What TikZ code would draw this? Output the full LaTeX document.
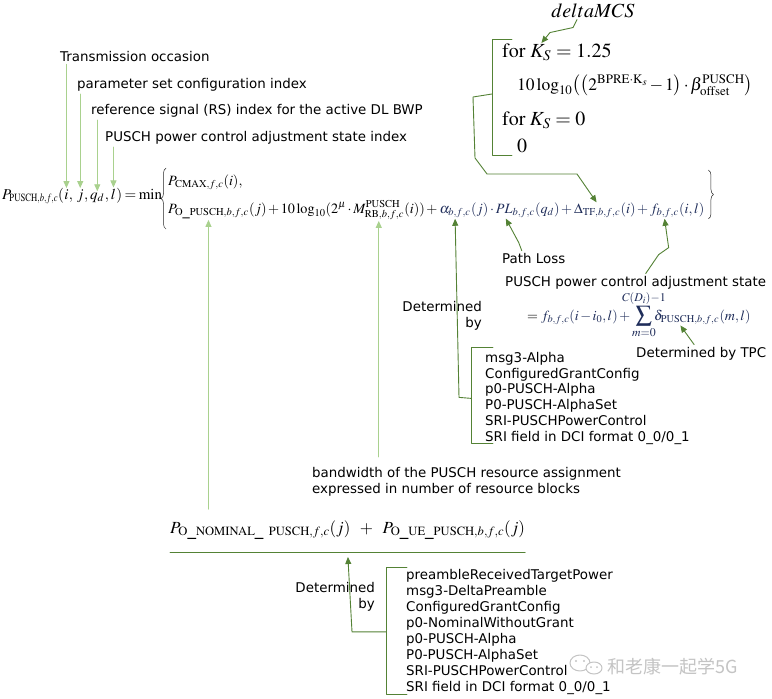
\documentclass[tikz,border=0pt]{standalone}
\usepackage{graphicx}
\usepackage{mathptmx}
\usepackage[no-math]{fontspec}
\setmainfont{DejaVu Sans}
\newfontfamily\cjkfont{Noto Sans CJK SC}
\usetikzlibrary{positioning,arrows.meta,calc,decorations.pathreplacing}
\definecolor{lightgrn}{HTML}{A9D18E}
\definecolor{darkgrn}{HTML}{548235}
\definecolor{eqnavy}{HTML}{1F2D5A}
\definecolor{wmgray}{HTML}{C4C4C4}
\newcommand{\zclap}[1]{\makebox[0pt]{$\scriptstyle #1$}}
\newcommand{\tightsub}[1]{\scalebox{0.78}[1]{$\scriptstyle #1$}}
\medmuskip=2mu plus 1mu minus 1mu

\begin{document}
\begin{tikzpicture}[x=1pt, y=-1pt, line cap=round, line join=round,
  every node/.style={inner sep=0pt},
  lbl/.style={font=\fontsize{13.4}{15.8}\selectfont},
  eqn/.style={font=\fontsize{15}{18}\selectfont},
  roweqn/.style={font=\fontsize{14.2}{17}\selectfont},
  stateeqn/.style={font=\fontsize{14}{17}\selectfont},
  bigeqn/.style={font=\fontsize{20}{24}\selectfont},
  brc/.style={draw=black!85, line width=0.5pt, decorate, decoration={brace, amplitude=5pt}},
  lgarrow/.style={draw=lightgrn, line width=0.9pt, shorten >=1pt, -{Triangle[length=7pt,width=6pt]}},
  dgarrow/.style={draw=darkgrn, line width=0.9pt, shorten >=1pt, -{Triangle[length=7pt,width=6pt]}},
  bkt/.style={draw=darkgrn, line width=0.9pt}]
  \fill[white] (0,0) rectangle (772,699);
  \useasboundingbox (0,0) rectangle (772,699);

  % index labels on top
  \node[lbl, anchor=base west] (tocc) at (60,61) {Transmission occasion};
  \node[lbl, anchor=base west] (pset) at (77,88) {parameter set configuration index};
  \node[lbl, anchor=base west] (rsidx) at (91,114) {reference signal (RS) index for the active DL BWP};
  \node[lbl, anchor=base west] (stidx) at (105,141) {PUSCH power control adjustment state index};

  % P_PUSCH(i,j,q_d,l) = min
  \node[eqn, anchor=base west] (pp) at (2,199) {$P_{\tightsub{\mathrm{PUSCH},b,f,c}}($};
  \node[eqn, anchor=base west] (argi) at (pp.base east) {$i$};
  \node[eqn, anchor=base west] (cm1) at (argi.base east) {$,\;$};
  \node[eqn, anchor=base west] (argj) at (cm1.base east) {$j$};
  \node[eqn, anchor=base west] (cm2) at (argj.base east) {$,\,$};
  \node[eqn, anchor=base west] (argq) at (cm2.base east) {$q_d$};
  \node[eqn, anchor=base west] (cm3) at (argq.base east) {$,\,$};
  \node[eqn, anchor=base west] (argl) at (cm3.base east) {$l$};
  \node[eqn, anchor=base west] (eqmin) at (argl.base east) {$)\mkern-1mu=\mkern-1mu\min$};

  % the two rows of min{}
  \node[roweqn, anchor=base west] (pcmax) at (168,185) {$P_{\mathrm{CMAX},f,c}(i),$};
  \node[roweqn, anchor=base west] (po) at (168,213) {$P_{\mathrm{O\_PUSCH},b,f,c}$};
  \node[roweqn, anchor=base west] (t1) at (po.base east) {$(j)+10\log_{10}(2^{\mu}\cdot{}$};
  \node[roweqn, anchor=base west] (mrb) at (t1.base east) {$M^{\mathrm{PUSCH}}_{\mathrm{RB},b,f,c}$};
  \node[roweqn, anchor=base west] (t2) at (mrb.base east) {$(i))+{}$};
  \node[roweqn, anchor=base west, text=eqnavy] (alpha) at (t2.base east) {$\alpha_{b,f,c}$};
  \node[roweqn, anchor=base west, text=eqnavy] (t3) at (alpha.base east) {$(j)\cdot{}$};
  \node[roweqn, anchor=base west, text=eqnavy] (pl) at (t3.base east) {$PL_{b,f,c}$};
  \node[roweqn, anchor=base west, text=eqnavy] (t4) at (pl.base east) {$(q_d)+{}$};
  \node[roweqn, anchor=base west, text=eqnavy] (dtf) at (t4.base east) {$\Delta_{\mathrm{TF},b,f,c}$};
  \node[roweqn, anchor=base west, text=eqnavy] (t5) at (dtf.base east) {$(i)+{}$};
  \node[roweqn, anchor=base west, text=eqnavy] (fbfc) at (t5.base east) {$f_{b,f,c}$};
  \node[roweqn, anchor=base west, text=eqnavy] (t6) at (fbfc.base east) {$(i,l)$};
  \draw[brc] ($(pcmax.west |- po.south)+(-2pt,-10pt)$) -- ($(pcmax.north west)+(-2pt,6pt)$);
  \draw[brc] ($(t6.east |- pcmax.north)+(4pt,4pt)$) -- ($(t6.south east)+(4pt,-2pt)$);

  % delta_TF cases
  \node[bigeqn, anchor=base] (dmcs) at (593,17) {$deltaMCS$};
  \node[bigeqn, anchor=base west] (for1) at (502,57) {$\mathrm{for}\;$};
  \node[bigeqn, anchor=base west] (ksym) at (for1.base east) {$K_S$};
  \node[bigeqn, anchor=base west] (ks1) at (ksym.base east) {${}=1.25$};
  \node[font=\fontsize{17.5}{21}\selectfont, anchor=base west] (dlog) at (517,90) {$10\log_{10}\bigl(\bigl(2^{\mathrm{BPRE}\cdot\mathrm{K}_s}-1\bigr)\cdot\beta^{\mathrm{PUSCH}}_{\mathrm{offset}}\bigr)$};
  \node[bigeqn, anchor=base west] (ks0) at (502,125) {$\mathrm{for}\;K_S=0$};
  \node[bigeqn, anchor=base west] (zero) at (517,152) {$0$};
  \draw[bkt] (512,39) -- (492,39) -- (492,155) -- (512,155);
  \coordinate (b0mid) at (492,94);

  % closed loop state
  \node[lbl, anchor=base west] (ploss) at (502,263) {Path Loss};
  \node[lbl, anchor=base west] (pcas) at (505,286) {PUSCH power control adjustment state};
  \node[stateeqn, anchor=base west] (seq) at (527,320) {$={}\color{eqnavy}f_{b,f,c}(i-i_0,l)+{}$};
  \node[font=\fontsize{16}{18}\selectfont, anchor=base west, text=eqnavy] (sumn) at (seq.base east) {$\;\displaystyle\sum_{\zclap{m=0}}^{\zclap{C(D_i)-1}}$};
  \node[stateeqn, anchor=base west, text=eqnavy] (dsym) at (sumn.base east) {$\,\delta_{\mathrm{PUSCH},b,f,c}$};
  \node[stateeqn, anchor=base west, text=eqnavy] (dml) at (dsym.base east) {$(m,l)$};
  \node[lbl, anchor=base west] (tpc) at (636,357) {Determined by TPC};

  % alpha sources
  \node[lbl, anchor=north east, align=right] (detby1) at (482,301) {Determined\\by};
  \node[lbl, anchor=north west, align=left] (alist) at (485,352) {msg3-Alpha\\ConfiguredGrantConfig\\p0-PUSCH-Alpha\\P0-PUSCH-AlphaSet\\SRI-PUSCHPowerControl\\SRI field in DCI format 0\_0/0\_1};
  \draw[bkt] ([shift={(8pt,5pt)}]alist.north west) -- ([shift={(-14pt,5pt)}]alist.north west) -- ([shift={(-14pt,1pt)}]alist.south west) -- ([shift={(8pt,1pt)}]alist.south west);
  \coordinate (b1mid) at ([xshift=-14pt]alist.west);

  \node[lbl, anchor=north west, align=left] (bwlbl) at (312,467) {bandwidth of the PUSCH resource assignment\\expressed in number of resource blocks};

  % P_O split
  \node[font=\fontsize{17}{20}\selectfont, anchor=base west] (pnom) at (170,533) {$P_{\mathrm{O\_NOMINAL\_\ PUSCH},f,c}(j)\;\;+\;\;P_{\mathrm{O\_UE\_PUSCH},b,f,c}(j)$};
  \draw[bkt] ([yshift=-12pt]pnom.south west) -- ([yshift=-12pt]pnom.south east);
  \coordinate (pnomln) at ([yshift=-12pt]pnom.south);
  \node[lbl, anchor=north east, align=right] (detby2) at (375,582) {Determined\\by};
  \node[font=\fontsize{13.4}{16}\selectfont, anchor=north west, align=left] (dlist) at (406,569) {preambleReceivedTargetPower\\msg3-DeltaPreamble\\ConfiguredGrantConfig\\p0-NominalWithoutGrant\\p0-PUSCH-Alpha\\P0-PUSCH-AlphaSet\\SRI-PUSCHPowerControl\\SRI field in DCI format 0\_0/0\_1};
  \draw[bkt] ([shift={(1pt,2pt)}]dlist.north west) -- ([shift={(-20pt,2pt)}]dlist.north west) -- ([shift={(-20pt,0pt)}]dlist.south west) -- ([shift={(1pt,0pt)}]dlist.south west);
  \coordinate (b2mid) at ([xshift=-20pt]dlist.west);

  % light green pointers
  \draw[lgarrow] ($(argi.north |- tocc.south)+(0pt,-3pt)$) -- (argi.north);
  \draw[lgarrow] ($(argj.north |- pset.south)+(0pt,-3pt)$) -- (argj.north);
  \draw[lgarrow] ($(argq.north |- rsidx.south)+(0pt,-3pt)$) -- (argq.north);
  \draw[lgarrow] ($(argl.north |- stidx.south)+(0pt,-3pt)$) -- (argl.north);
  \draw[lgarrow] ($(po.south |- pnom.north)+(0pt,11pt)$) -- (po.south);
  \draw[lgarrow] ($(mrb.south |- bwlbl.north)+(0pt,10pt)$) -- (mrb.south);

  % dark green pointers
  \draw[dgarrow] ([xshift=-16pt,yshift=-2pt]dmcs.south) -- ++(-4pt,-8pt) -- ++(-23pt,-5pt) -- (ksym.north);
  \draw[dgarrow] (b0mid) -- ++(-19pt,-3pt) -- ++(2pt,-61pt) -- ++(12pt,-16pt) -- ++(90pt,0pt) -- (dtf.north);
  \draw[dgarrow] (b1mid) -- ++(-12pt,1pt) -- (alpha.south);
  \draw[dgarrow] ([xshift=-12pt,yshift=2pt]ploss.north) -- ++(-3pt,8pt) -- ([xshift=-10pt]pl.south);
  \draw[dgarrow] ([xshift=10pt,yshift=2pt]pcas.north) -- ++(13pt,19pt) -- ++(10pt,7pt) -- (fbfc.south);
  \draw[dgarrow] ([xshift=-7pt,yshift=2pt]tpc.north) -- ([xshift=-6pt]dsym.south);
  \draw[dgarrow, shorten >=5pt] (b2mid) -- ++(-34pt,0pt) -- (pnomln);

  % watermark
  \draw[wmgray, line width=1pt] (580,663) ellipse (10pt and 8pt);
  \filldraw[draw=wmgray, fill=white, line width=1pt] (594,668) ellipse (8pt and 6pt);
  \fill[wmgray] (576,661) circle (1.2pt) (584,661) circle (1.2pt) (591,667) circle (1pt) (597,667) circle (1pt);
  \node[font=\cjkfont\fontsize{18}{20}\selectfont, text=wmgray, anchor=west] (wmark) at (607,667) {和老康一起学5G};
\end{tikzpicture}
\end{document}
